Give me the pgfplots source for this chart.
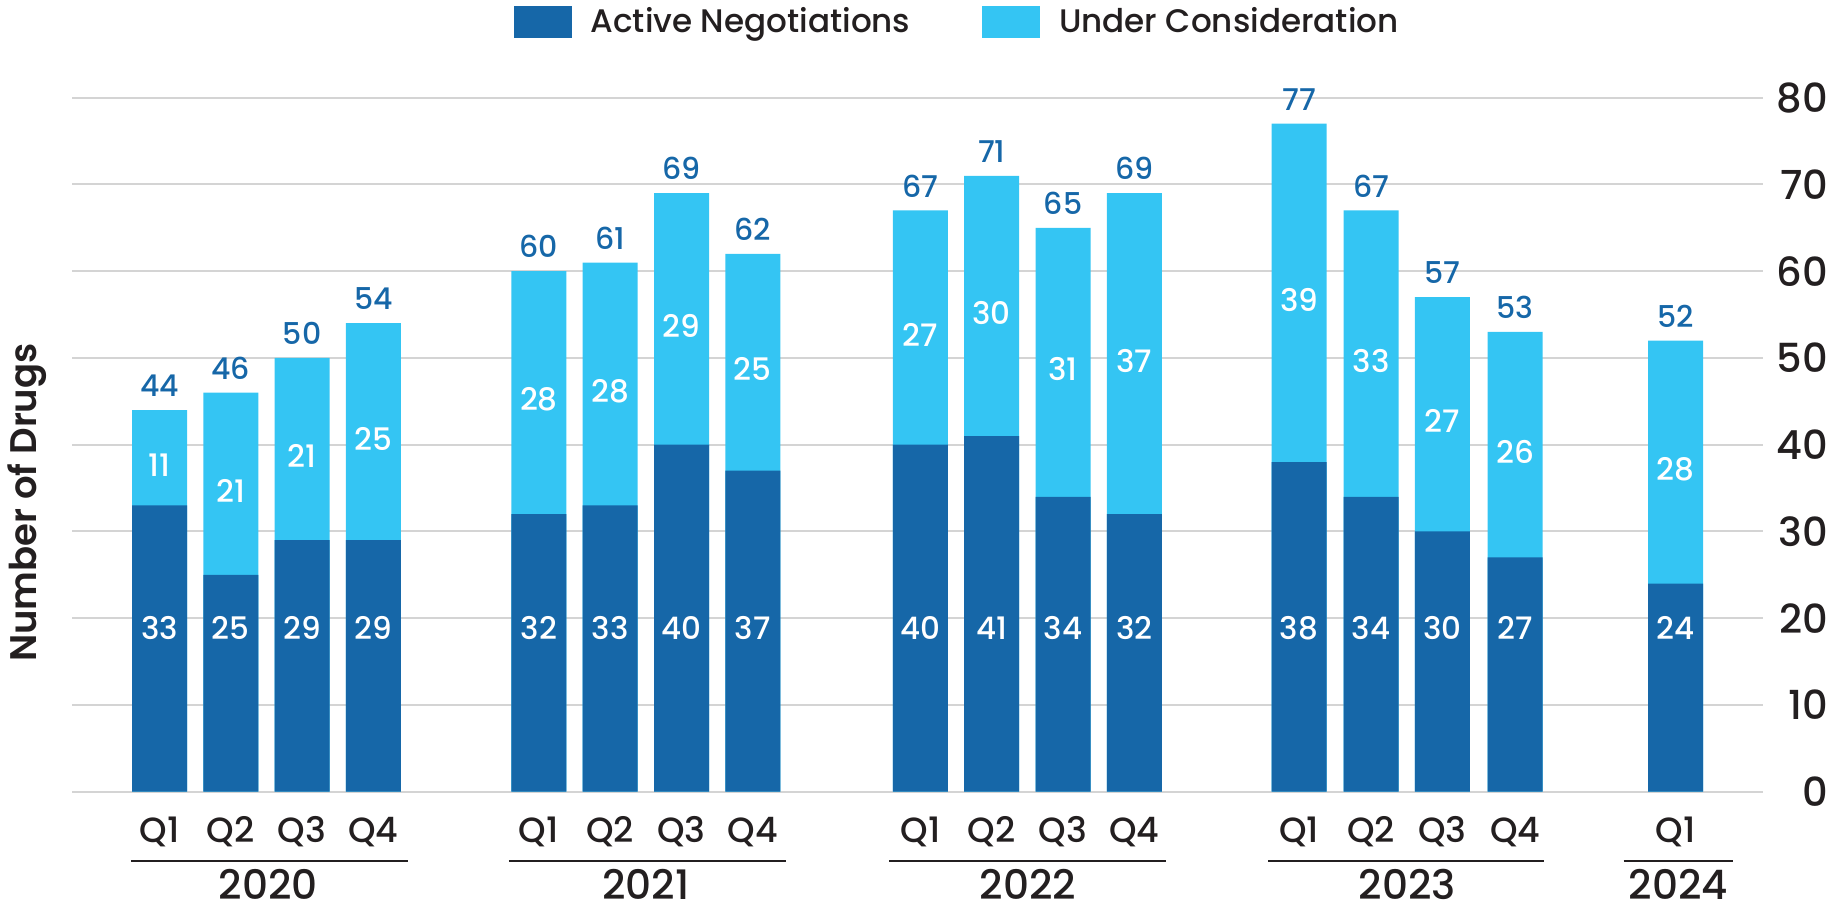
\documentclass[border=0pt]{standalone}
\usepackage{fontspec}
\setmainfont{Poppins}[UprightFont={* Medium}, BoldFont={* SemiBold}]
\usepackage{pgfplots}
\pgfplotsset{compat=1.18}
\usepackage{pgfplotstable}
\definecolor{darkblue}{HTML}{1667A8}
\definecolor{lightblue}{HTML}{34C5F3}
\definecolor{txt}{HTML}{231F20}
\definecolor{gridc}{HTML}{D4D4D4}

\pgfplotstableread{
x dark light total
0 33 11 44
1 25 21 46
2 29 21 50
3 29 25 54
5.32 32 28 60
6.32 33 28 61
7.32 40 29 69
8.32 37 25 62
10.67 40 27 67
11.67 41 30 71
12.67 34 31 65
13.67 32 37 69
15.98 38 39 77
16.99 34 33 67
17.99 30 27 57
19.01 27 26 53
21.26 24 28 52
}\data

\tikzset{yrline/.style={txt, line width=0.85pt},
  yrlab/.style={anchor=base, inner sep=0pt, font=\fontsize{20.3}{24}\selectfont, text=txt}}

\begin{document}
\begin{tikzpicture}
\path[use as bounding box] (-36.15pt,-59.15pt) rectangle (887.35pt,395.85pt);
\begin{axis}[
  at={(0pt,0pt)}, anchor=south west,
  scale only axis, width=845.5pt, height=347pt,
  xmin=-1.223, xmax=22.49, ymin=0, ymax=80,
  clip=false,
  axis line style={draw=none},
  tick style={draw=none},
  ytick={0,10,...,80},
  yticklabel pos=right,
  ymajorgrids, grid style={gridc, line width=1pt},
  xtick={0,1,2,3,5.32,6.32,7.32,8.32,10.67,11.67,12.67,13.67,15.98,16.99,17.99,19.01,21.26},
  xticklabels={Q1,Q2,Q3,Q4,Q1,Q2,Q3,Q4,Q1,Q2,Q3,Q4,Q1,Q2,Q3,Q4,Q1},
  /pgf/number format/assume math mode=true,
  yticklabel style={font=\fontsize{20}{24}\selectfont, text=txt, anchor=east, inner sep=0pt, xshift=32.6pt},
  xticklabel style={font=\fontsize{17.5}{21}\selectfont, text=txt, anchor=base, inner sep=0pt, yshift=-25.5pt},
  legend style={at={(axis description cs:0.2612,1.1321)}, anchor=north west, draw=none, fill=none,
    inner sep=0pt, outer sep=0pt, font=\fontsize{16.3}{20}\selectfont, text=txt,
    nodes={inner sep=0pt},
    /tikz/every odd column/.append style={column sep=9.5pt},
    /tikz/every even column/.append style={column sep=36pt}},
  legend columns=2,
  legend cell align=left,
  legend image code/.code={\fill[#1] (0pt,-7.9pt) rectangle (28.8pt,7.9pt);},
]
\addlegendimage{fill=darkblue, draw=none}
\addlegendentry{Active Negotiations}
\addlegendimage{fill=lightblue, draw=none}
\addlegendentry{Under Consideration}

\addplot[ybar, bar width=27.5pt, bar shift=0pt, fill=lightblue, draw=none, forget plot] table[x=x, y=total] {\data};
\addplot[ybar, bar width=27.5pt, bar shift=0pt, fill=darkblue, draw=none, forget plot] table[x=x, y=dark] {\data};

% total labels
\addplot[draw=none, forget plot, nodes near coords, point meta=explicit symbolic,
  every node near coord/.append style={font=\fontsize{15}{18}\selectfont, text=darkblue, anchor=base, inner sep=0pt, yshift=6.7pt}]
  table[x=x, y=total, meta=total] {\data};
% dark labels
\addplot[draw=none, forget plot, nodes near coords, point meta=explicit symbolic,
  every node near coord/.append style={font=\fontsize{15.5}{18}\selectfont, text=white, anchor=center, inner sep=0pt}]
  table[x=x, y expr=18.87, meta=dark] {\data};
% light labels
\addplot[draw=none, forget plot, nodes near coords, point meta=explicit symbolic,
  every node near coord/.append style={font=\fontsize{15.5}{18}\selectfont, text=white, anchor=center, inner sep=0pt, yshift=-3.5pt}]
  table[x=x, y expr=\thisrow{dark}+0.5*\thisrow{light}, meta=light] {\data};

% year brackets
\draw[yrline] ([yshift=-34.8pt]axis cs:-0.40,0) -- ([yshift=-34.8pt]axis cs:3.49,0);
\draw[yrline] ([yshift=-34.8pt]axis cs:4.90,0) -- ([yshift=-34.8pt]axis cs:8.78,0);
\draw[yrline] ([yshift=-34.8pt]axis cs:10.23,0) -- ([yshift=-34.8pt]axis cs:14.12,0);
\draw[yrline] ([yshift=-34.8pt]axis cs:15.55,0) -- ([yshift=-34.8pt]axis cs:19.42,0);
\draw[yrline] ([yshift=-34.8pt]axis cs:20.53,0) -- ([yshift=-34.8pt]axis cs:22.07,0);
\node[yrlab] at ([yshift=-53.8pt]axis cs:1.526,0) {2020};
\node[yrlab] at ([yshift=-53.8pt]axis cs:6.82,0) {2021};
\node[yrlab] at ([yshift=-53.8pt]axis cs:12.18,0) {2022};
\node[yrlab] at ([yshift=-53.8pt]axis cs:17.5,0) {2023};
\node[yrlab] at ([yshift=-53.8pt]axis cs:21.30,0) {2024};
\node[rotate=90, anchor=base, inner sep=0pt, font=\bfseries\fontsize{18.5}{22}\selectfont, text=txt] at (axis description cs:-0.021,0.4167) {Number of Drugs};
\end{axis}
\end{tikzpicture}
\end{document}
